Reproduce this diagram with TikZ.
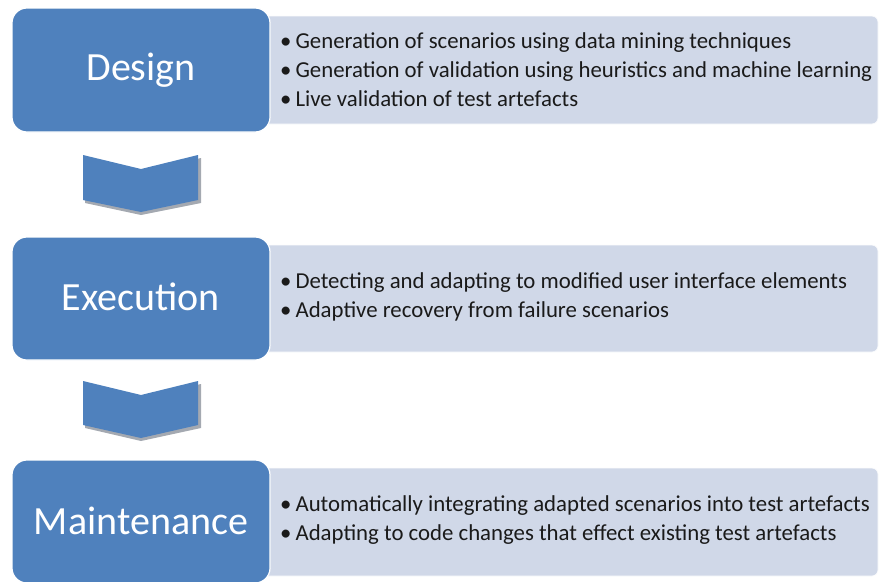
\documentclass[tikz,border=0pt]{standalone}
\usepackage{fontspec}
\setmainfont{Carlito}
\definecolor{stageblue}{HTML}{4F81BD}
\definecolor{itemfill}{HTML}{D0D8E8}
\definecolor{shadowgray}{HTML}{A4A9B1}
\definecolor{itemtext}{HTML}{1A1A1A}
\newcommand{\itembullet}{\textbullet\hspace{4pt}}
\begin{document}
\begin{tikzpicture}[x=1pt,y=-1pt,
  stagebox/.style={fill=stageblue,draw=white,line width=1.2pt,rounded corners=15pt},
  itembox/.style={fill=itemfill,draw=white!92!itemfill,line width=0.8pt,rounded corners=6pt},
  stagelabel/.style={text=white,font=\fontsize{40}{44}\selectfont,inner sep=0pt},
  itemlist/.style={text=itemtext,font=\fontsize{22.8}{29}\selectfont,align=left,anchor=west,inner sep=0pt},
  chev/.style={fill=stageblue},
  chevshadow/.style={fill=shadowgray}
]
\useasboundingbox (0,0) rectangle (880,581);
% item boxes
\draw[itembox] (262,16) rectangle (878,124);
\draw[itembox] (262,245) rectangle (878,352);
\draw[itembox] (262,468) rectangle (878,576);
% stage boxes
\draw[stagebox] (12,8) rectangle (270,132);
\draw[stagebox] (12,237) rectangle (270,360);
\draw[stagebox] (12,460) rectangle (270,583);
\node[stagelabel] (design) at (141,70) {Design};
\node[stagelabel] (execution) at (141,297) {Execution};
\node[stagelabel] (maintenance) at (141,521) {Maintenance};
% item texts
\node[itemlist] (designitems) at (280,69.5) {\itembullet Generation of scenarios using data mining techniques\\
\itembullet Generation of validation using heuristics and machine learning\\
\itembullet Live validation of test artefacts};
\node[itemlist] (executionitems) at (280,296.5) {\itembullet Detecting and adapting to modified user interface elements\\
\itembullet Adaptive recovery from failure scenarios};
\node[itemlist] (maintenanceitems) at (280,520.5) {\itembullet Automatically integrating adapted scenarios into test artefacts\\
\itembullet Adapting to code changes that effect existing test artefacts};
% chevrons
\fill[chevshadow] (85,158) -- (141,172) -- (201,158) -- (201,203) -- (141,215) -- (85,203) -- cycle;
\fill[chev] (83,155) -- (141,169) -- (198,155) -- (198,200) -- (141,212) -- (83,200) -- cycle;
\fill[chevshadow] (85,384) -- (141,398) -- (201,384) -- (201,428) -- (141,441) -- (85,428) -- cycle;
\fill[chev] (83,381) -- (141,395) -- (198,381) -- (198,425) -- (141,438) -- (83,425) -- cycle;
\end{tikzpicture}
\end{document}
